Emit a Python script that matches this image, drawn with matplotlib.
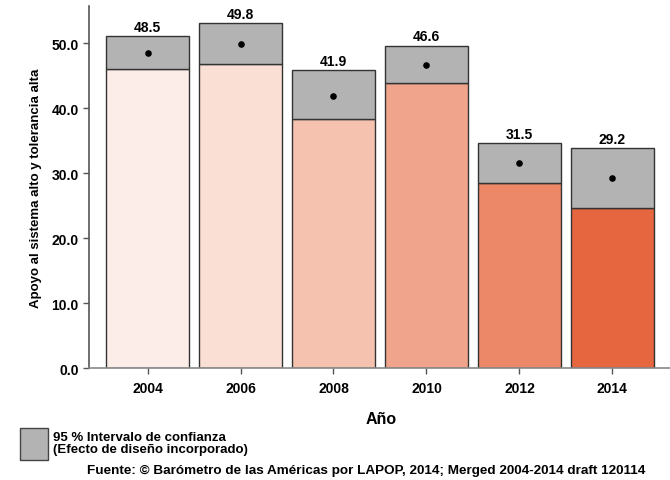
import numpy as np
import matplotlib.pyplot as plt
from matplotlib.patches import Rectangle

plt.rcParams["font.family"] = ["Liberation Sans", "DejaVu Sans"]
plt.rcParams["font.weight"] = "bold"

# data
years = ["2004", "2006", "2008", "2010", "2012", "2014"]
means = [48.5, 49.8, 41.9, 46.6, 31.5, 29.2]
ci_low = [46.0, 46.8, 38.3, 43.8, 28.5, 24.6]
ci_high = [51.1, 53.1, 45.8, 49.6, 34.6, 33.8]
bar_colors = ["#FCEDE8", "#FADFD5", "#F5C2B0", "#F0A48B", "#EC8767", "#E6663F"]

fig = plt.figure(figsize=(6.7, 4.81), dpi=100)
ax = fig.add_axes([89 / 670, 1 - 369.3 / 481, 1 - 89 / 670, (369.3 - 7) / 481])

x = np.arange(len(years))
w = 0.89
edge = "#333333"

# bars up to lower CI, grey box for the interval
ax.bar(x, ci_low, width=w, color=bar_colors, edgecolor=edge, linewidth=1.0, zorder=2)
ax.bar(x, np.array(ci_high) - np.array(ci_low), bottom=ci_low, width=w,
       color="#B3B3B3", edgecolor=edge, linewidth=1.0, zorder=2)
ax.scatter(x, means, s=14, color="black", zorder=3)

for xi, top, m in zip(x, ci_high, means):
    ax.text(xi, top + 0.35, f"{m:.1f}", ha="center", va="bottom",
            fontsize=10, fontweight="bold")

ax.set_xlim(-0.63, 5.62)
ax.set_ylim(0, 55.7)
ax.set_xticks(x)
ax.set_xticklabels(years)
ax.set_yticks(np.arange(0, 51, 10))
ax.set_yticklabels([f"{v:.1f}" for v in np.arange(0, 51, 10)])
ax.tick_params(axis="both", labelsize=10, length=4, color="#555555", width=1)
ax.tick_params(axis="x", pad=5)
for lab in ax.get_xticklabels() + ax.get_yticklabels():
    lab.set_fontweight("bold")

for s in ["top", "right"]:
    ax.spines[s].set_visible(False)
ax.spines["left"].set_color("#555555")
ax.spines["bottom"].set_color("#888888")
ax.spines["left"].set_linewidth(1.2)
ax.spines["bottom"].set_linewidth(1.2)

ax.set_ylabel("Apoyo al sistema alto y tolerancia alta", fontsize=9.5,
              fontweight="bold", labelpad=7)
fig.text(381 / 670, 1 - 420 / 481, "Año", ha="center", va="center",
         fontsize=11.5, fontweight="bold")

# legend box
fig.patches.append(Rectangle((20 / 670, 1 - 461 / 481), 28 / 670, 32 / 481,
                             transform=fig.transFigure, facecolor="#B3B3B3",
                             edgecolor="#444444", linewidth=1.0))
fig.text(53 / 670, 1 - 438 / 481, "95 % Intervalo de confianza", ha="left",
         va="center", fontsize=9.5, fontweight="bold")
fig.text(53 / 670, 1 - 450 / 481, "(Efecto de diseño incorporado)", ha="left",
         va="center", fontsize=9.5, fontweight="bold")
fig.text(87 / 670, 1 - 471 / 481,
         "Fuente: © Barómetro de las Américas por LAPOP, 2014; Merged 2004-2014 draft 120114",
         ha="left", va="center", fontsize=9.7, fontweight="bold")

fig.savefig("out.png", dpi=100)
